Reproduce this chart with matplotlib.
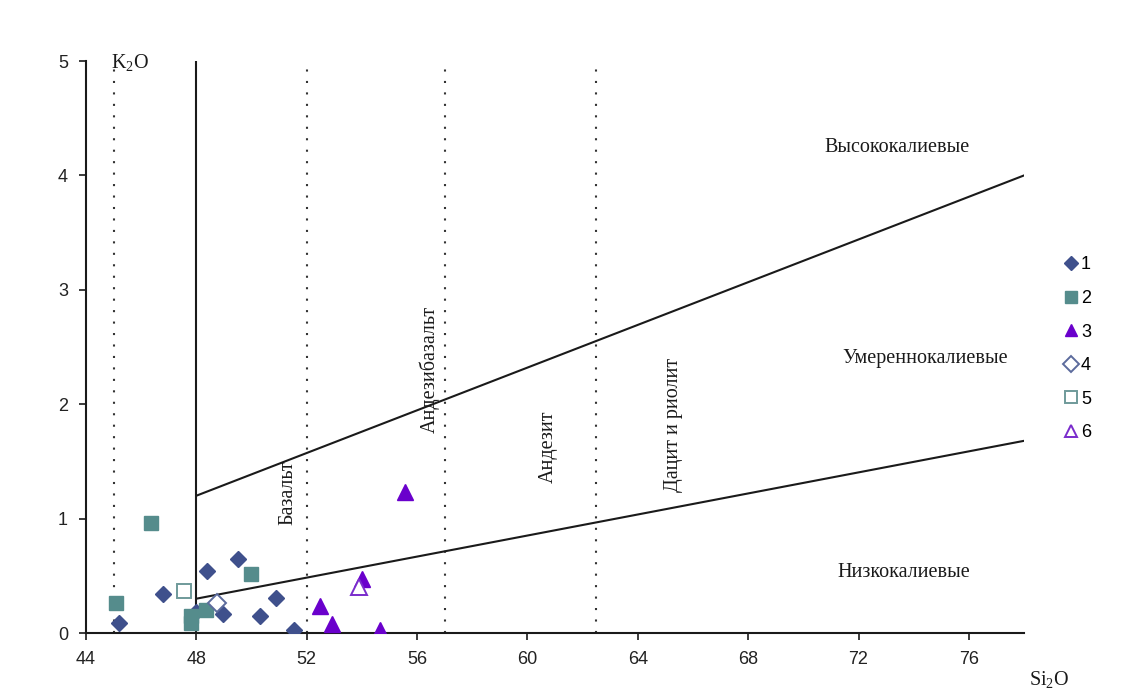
"""K2O vs SiO2 classification diagram with sample series 1-6."""

import matplotlib

matplotlib.use("Agg")
import matplotlib.pyplot as plt

SERIF = "Liberation Serif"
SANS = "Liberation Sans"
INK = "#1a1a1a"

# sample series (SiO2, K2O)
s1_x = [45.2, 46.8, 48.4, 49.5, 48.0, 48.95, 50.3, 50.9, 51.55]
s1_y = [0.09, 0.34, 0.54, 0.65, 0.18, 0.17, 0.15, 0.31, 0.03]
s2_x = [45.1, 46.35, 50.0, 47.8, 47.8, 48.35]
s2_y = [0.26, 0.96, 0.52, 0.09, 0.15, 0.20]
s3_x = [55.55, 54.0, 52.5, 52.9, 54.65]
s3_y = [1.23, 0.47, 0.24, 0.08, 0.03]
s4_x, s4_y = [48.75], [0.26]
s5_x, s5_y = [47.55], [0.37]
s6_x, s6_y = [53.9], [0.40]

# field boundaries
upper_x, upper_y = [48, 78], [1.2, 4.0]
lower_x, lower_y = [48, 78], [0.3, 1.68]
solid_x = 48
dotted_x = [45, 52, 57, 62.5]

x_ticks = [44, 48, 52, 56, 60, 64, 68, 72, 76]
y_ticks = [0, 1, 2, 3, 4, 5]

plt.rcParams["mathtext.default"] = "regular"

fig = plt.figure(figsize=(11.22, 6.95), dpi=100)
ax = fig.add_axes([0.0766, 0.0892, 0.8361, 0.823])

for x in dotted_x:
    ax.plot([x, x], [0, 5], color="#333333", lw=1.5, ls=(0, (1, 4.5)), zorder=1)
ax.plot([solid_x, solid_x], [0, 5], color=INK, lw=1.5, zorder=1)
ax.plot(upper_x, upper_y, color=INK, lw=1.5, zorder=1)
ax.plot(lower_x, lower_y, color=INK, lw=1.5, zorder=1)

ax.plot(s1_x, s1_y, ls="none", marker="D", ms=8, color="#3f508c", label="1", zorder=3)
ax.plot(s2_x, s2_y, ls="none", marker="s", ms=9.5, color="#558c8c", label="2", zorder=3)
ax.plot(s3_x, s3_y, ls="none", marker="^", ms=11, color="#6a00cc", label="3", zorder=3)
ax.plot(s4_x, s4_y, ls="none", marker="D", ms=9, mfc="white", mec="#5c6b9c", mew=1.4,
        label="4", zorder=3)
ax.plot(s5_x, s5_y, ls="none", marker="s", ms=10.5, mfc="white", mec="#6f9a9a", mew=1.4,
        label="5", zorder=3)
ax.plot(s6_x, s6_y, ls="none", marker="^", ms=11, mfc="white", mec="#7a2ccc", mew=1.4,
        label="6", zorder=3)

ax.set_xlim(44, 78)
ax.set_ylim(0, 5)
ax.set_xticks(x_ticks)
ax.set_yticks(y_ticks)
for side in ("top", "right"):
    ax.spines[side].set_visible(False)
for side in ("left", "bottom"):
    ax.spines[side].set_color(INK)
    ax.spines[side].set_linewidth(1.5)
ax.tick_params(direction="out", length=5, width=1.2, colors=INK, labelsize=13, pad=8)
for lab in ax.get_xticklabels() + ax.get_yticklabels():
    lab.set_fontfamily(SANS)
    lab.set_color("#222222")

txt = dict(family=SERIF, fontsize=14.5, color=INK)
ax.text(73.4, 4.24, "Высококалиевые", ha="center", va="center", **txt)
ax.text(74.4, 2.40, "Умереннокалиевые", ha="center", va="center", **txt)
ax.text(73.65, 0.53, "Низкокалиевые", ha="center", va="center", **txt)
ax.text(51.32, 1.23, "Базальт", rotation=90, ha="center", va="center", **txt)
ax.text(56.47, 2.30, "Андезибазальт", rotation=90, ha="center", va="center", **txt)
ax.text(60.75, 1.63, "Андезит", rotation=90, ha="center", va="center", **txt)
ax.text(65.31, 1.82, "Дацит и риолит", rotation=90, ha="center", va="center", **txt)
ax.text(45.6, 4.99, "K$_2$O", ha="center", va="center", **txt)
ax.text(78.9, -0.41, "Si$_2$O", ha="center", va="center", clip_on=False, **txt)

fig.legend(loc="center left", bbox_to_anchor=(0.94, 0.498), frameon=False,
           prop={"family": SANS, "size": 13}, handletextpad=0.05, handlelength=1.0,
           labelspacing=0.92, markerscale=0.85, borderaxespad=0)

fig.savefig("out.png", dpi=100, facecolor="white")
